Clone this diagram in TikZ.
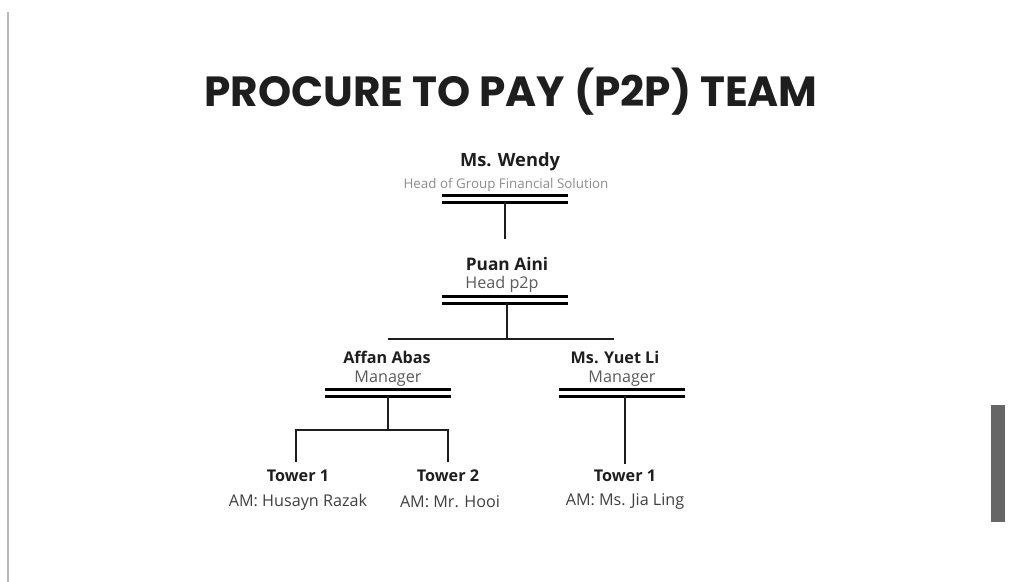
\documentclass[tikz,border=0pt]{standalone}
\usepackage{fontspec}
\setmainfont{Open Sans}
\newfontfamily\titlefont{Poppins}
\usetikzlibrary{positioning}
\definecolor{ink}{HTML}{1E1E1E}
\definecolor{rolegray}{HTML}{5A5A5A}
\definecolor{palegray}{HTML}{8C8C8C}

\begin{document}
\begin{tikzpicture}[x=0.025cm,y=-0.025cm,
    person/.style={font=\fontsize{11.5}{13}\selectfont\bfseries, text=ink, inner sep=0pt},
    role/.style={font=\fontsize{11.5}{13}\selectfont, text=rolegray, inner sep=0pt},
    rolebar/.style={minimum width=3.12cm, minimum height=0.15cm, inner sep=0pt,
        append after command={(\tikzlastnode.north west) edge[line width=1.9pt] (\tikzlastnode.north east)
            (\tikzlastnode.south west) edge[line width=1.9pt] (\tikzlastnode.south east)}},
    link/.style={draw=ink, line width=1.3pt}]
    \useasboundingbox (0,0) rectangle (1011,582);
    \draw[gray!55, line width=1pt] (8,12) -- (8,582);
    \fill[gray!80!black] (991,405) rectangle (1005,522);

    \node[font=\titlefont\fontsize{30}{34}\selectfont\bfseries, text=ink] (title) at (511,92) {PROCURE TO PAY (P2P) TEAM};

    \node[person, font=\fontsize{13}{15}\selectfont\bfseries] (wendy) at (510,162) {Ms. Wendy};
    \node[role, font=\fontsize{9.5}{11}\selectfont, text=palegray] (wendyrole) at (506,185) {Head of Group Financial Solution};
    \node[rolebar] (wbar) at (505,199) {};

    \node[person, font=\fontsize{12.3}{14}\selectfont\bfseries] (aini) at (507,264) {Puan Aini};
    \node[role] (ainirole) at (502,284) {Head p2p};
    \node[rolebar] (abar) at (505,300) {};

    \node[person] (affan) at (387,357) {Affan Abas};
    \node[role] (affanrole) at (388,379) {Manager};
    \node[rolebar] (fbar) at (388,393) {};

    \node[person] (yuet) at (615,357) {Ms. Yuet Li};
    \node[role] (yuetrole) at (622,379) {Manager};
    \node[rolebar] (ybar) at (622,393) {};

    \node[person] (towera) at (298,476) {Tower 1};
    \node[role, text=ink!85] (towerarole) at (298,502) {AM: Husayn Razak};
    \node[person] (towerb) at (448,476) {Tower 2};
    \node[role, text=ink!85] (towerbrole) at (450,502) {AM: Mr. Hooi};
    \node[person] (towerc) at (625,476) {Tower 1};
    \node[role, text=ink!85] (towercrole) at (625,502) {AM: Ms. Jia Ling};

    \coordinate (ainitop) at (505,239);
    \coordinate (split) at (507,339);
    \coordinate (lsplit) at (388,339);
    \coordinate (rsplit) at (614,339);
    \coordinate (fjoin) at (388,430);
    \coordinate (atop) at (296,462);
    \coordinate (btop) at (448,462);
    \coordinate (ctop) at (625,464);

    \draw[link] (wbar.south) -- (ainitop);
    \draw[link] (abar.south -| split) -- (split);
    \draw[link] (lsplit) -- (rsplit);
    \draw[link] (fbar.south) -- (fjoin);
    \draw[link] (atop) |- (fjoin) -| (btop);
    \draw[link] (ybar.south -| ctop) -- (ctop);
\end{tikzpicture}
\end{document}
